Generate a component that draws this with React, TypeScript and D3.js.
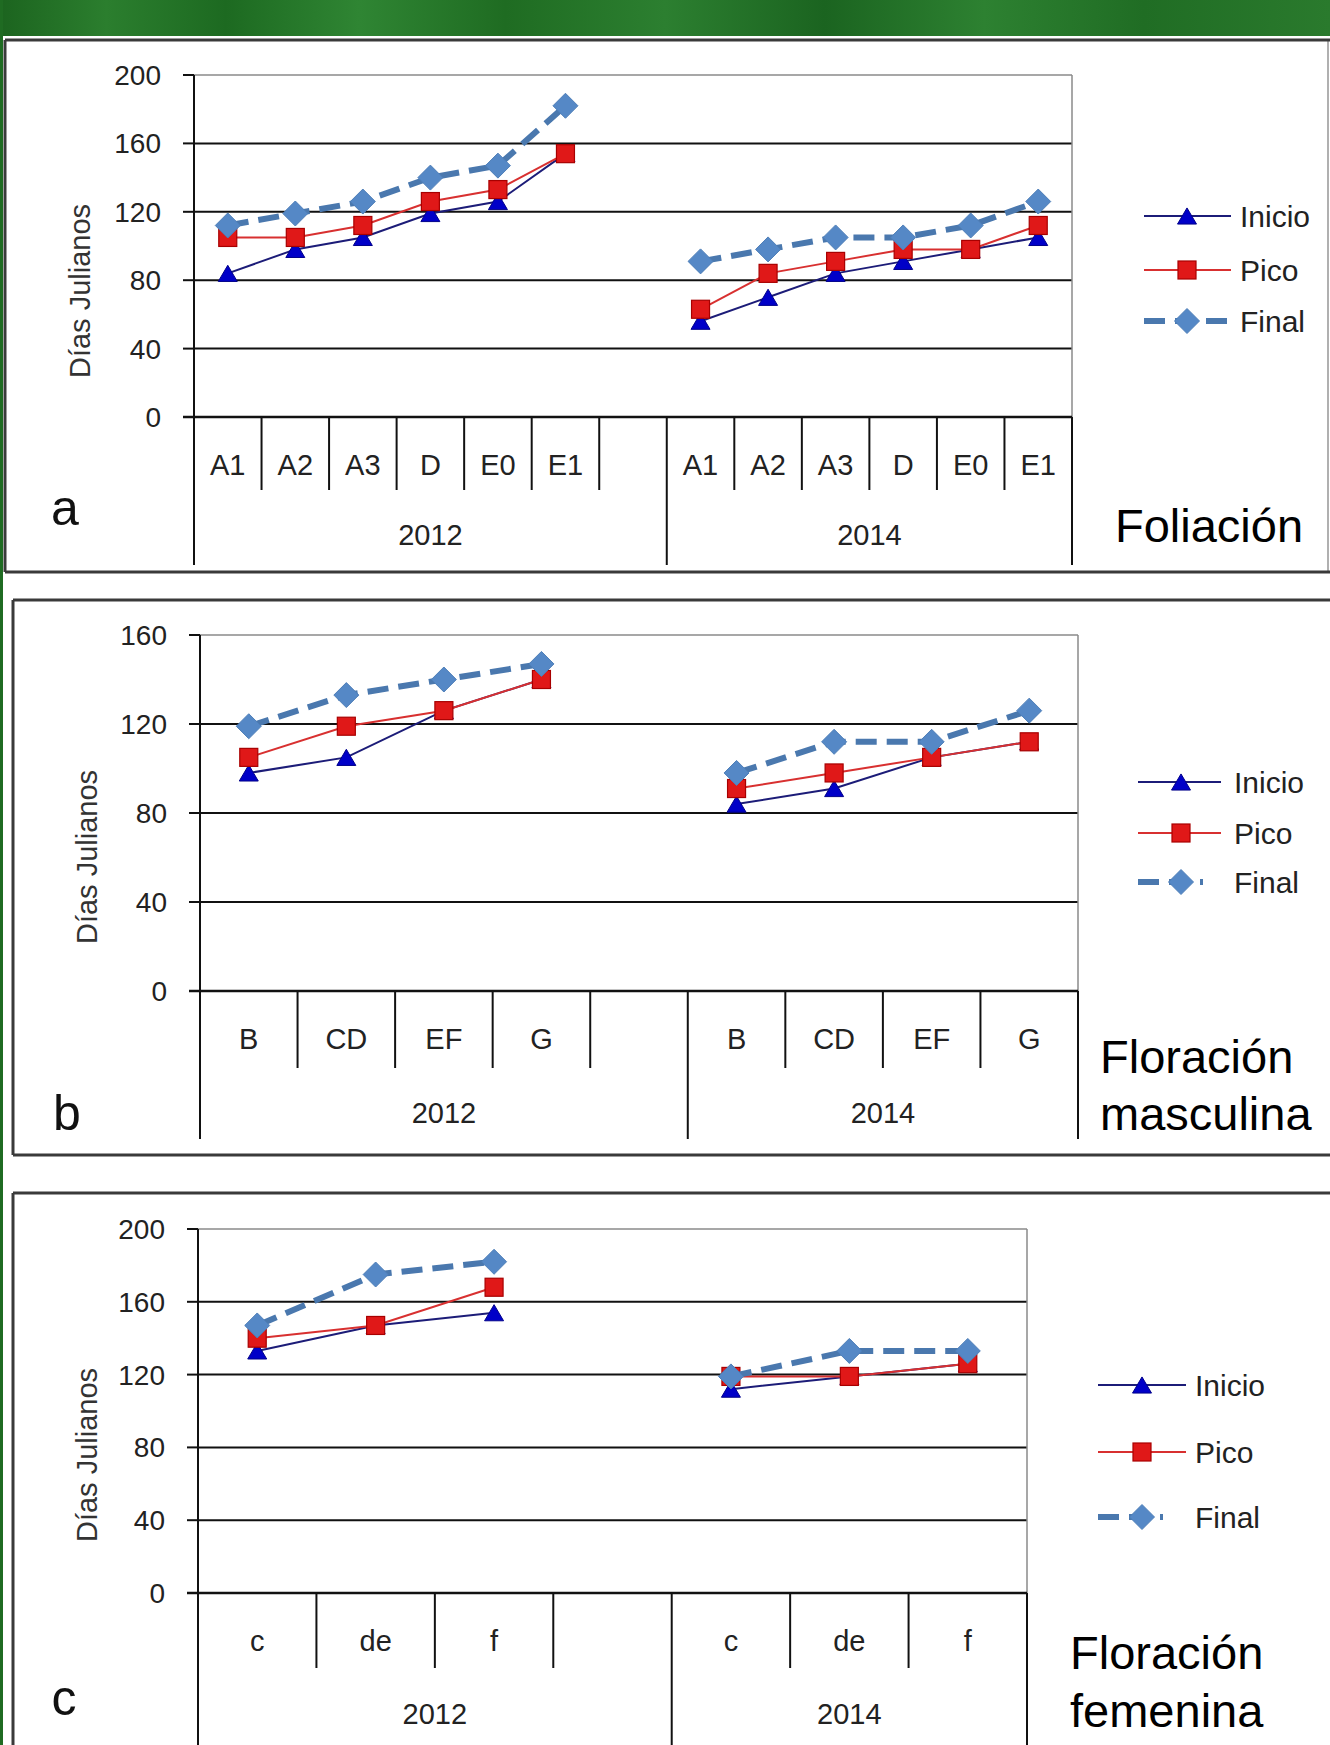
import * as d3 from 'd3';

const W = 1330;
const H = 1745;

const years = ['2012', '2014'];
const seriesNames = ['Inicio', 'Pico', 'Final'];

// a: Foliación (2012 stages then 2014 stages)
const folStages = ['A1', 'A2', 'A3', 'D', 'E0', 'E1'];
const folInicio = [84, 98, 105, 119, 126, 154, 56, 70, 84, 91, 98, 105];
const folPico = [105, 105, 112, 126, 133, 154, 63, 84, 91, 98, 98, 112];
const folFinal = [112, 119, 126, 140, 147, 182, 91, 98, 105, 105, 112, 126];
const folTicks = [0, 40, 80, 120, 160, 200];

// b: Floración masculina
const mascStages = ['B', 'CD', 'EF', 'G'];
const mascInicio = [98, 105, 126, 140, 84, 91, 105, 112];
const mascPico = [105, 119, 126, 140, 91, 98, 105, 112];
const mascFinal = [119, 133, 140, 147, 98, 112, 112, 126];
const mascTicks = [0, 40, 80, 120, 160];

// c: Floración femenina
const femStages = ['c', 'de', 'f'];
const femInicio = [133, 147, 154, 112, 119, 126];
const femPico = [140, 147, 168, 119, 119, 126];
const femFinal = [147, 175, 182, 119, 133, 133];
const femTicks = [0, 40, 80, 120, 160, 200];

const FONT = "'Liberation Sans', Arial, sans-serif";
const INICIO_LINE = '#1c1c78';
const INICIO_FILL = '#0000c8';
const PICO_LINE = '#d83030';
const PICO_FILL = '#e01818';
const FINAL_LINE = '#4a78ae';
const FINAL_FILL = '#5588c6';

type Layout = {
  frame: { x: number; y: number; b: number };
  plot: { l: number; r: number; t: number; b: number };
  shortSep: number;
  longSep: number;
  catY: number;
  yearY: number;
  letter: { t: string; x: number; y: number };
  yTitle: { x: number; y: number };
  legend: { x1: number; x2: number; x2f: number; xm: number; tx: number; ys: number[] };
  title: { x: number; lines: string[]; ys: number[] };
};

const layoutA: Layout = {
  frame: { x: 5, y: 40, b: 572 },
  plot: { l: 194, r: 1072, t: 75, b: 417 },
  shortSep: 490, longSep: 565, catY: 465, yearY: 535,
  letter: { t: 'a', x: 65, y: 525 },
  yTitle: { x: 80, y: 291 },
  legend: { x1: 1144, x2: 1231, x2f: 1231, xm: 1187, tx: 1240, ys: [216, 270, 321] },
  title: { x: 1115, lines: ['Foliación'], ys: [542] },
};
const layoutB: Layout = {
  frame: { x: 13, y: 600, b: 1155 },
  plot: { l: 200, r: 1078, t: 635, b: 991 },
  shortSep: 1068, longSep: 1139, catY: 1039, yearY: 1113,
  letter: { t: 'b', x: 67, y: 1130 },
  yTitle: { x: 87, y: 857 },
  legend: { x1: 1138, x2: 1221, x2f: 1203, xm: 1181, tx: 1234, ys: [782, 833, 882] },
  title: { x: 1100, lines: ['Floración', 'masculina'], ys: [1073, 1130] },
};
const layoutC: Layout = {
  frame: { x: 13, y: 1193, b: 1800 },
  plot: { l: 198, r: 1027, t: 1229, b: 1593 },
  shortSep: 1668, longSep: 1760, catY: 1641, yearY: 1714,
  letter: { t: 'c', x: 64, y: 1715 },
  yTitle: { x: 87, y: 1455 },
  legend: { x1: 1098, x2: 1186, x2f: 1163, xm: 1142, tx: 1195, ys: [1385, 1452, 1517] },
  title: { x: 1070, lines: ['Floración', 'femenina'], ys: [1669, 1727] },
};

function diamondPath(cx: number, cy: number, r: number) {
  return `M${cx},${cy - r}L${cx + r},${cy}L${cx},${cy + r}L${cx - r},${cy}Z`;
}
function trianglePath(cx: number, cy: number, s: number) {
  const h = s * 0.85;
  return `M${cx},${cy - h / 2}L${cx + s / 2},${cy + h / 2}L${cx - s / 2},${cy + h / 2}Z`;
}

function Marker({ kind, x, y }: { kind: number; x: number; y: number }) {
  if (kind === 0) return <path d={trianglePath(x, y, 19)} fill={INICIO_FILL} stroke="#00008a" strokeWidth={1} />;
  if (kind === 1) return <rect x={x - 9} y={y - 9} width={18} height={18} fill={PICO_FILL} stroke="#a80000" strokeWidth={1.2} />;
  return <path d={diamondPath(x, y, 12.5)} fill={FINAL_FILL} stroke="#4f7fb8" strokeWidth={1} />;
}

function Panel({ stages, series, ticks, L }: { stages: string[]; series: number[][]; ticks: number[]; L: Layout }) {
  const n = stages.length;
  const keys: string[] = [];
  years.forEach((yr, yi) => {
    stages.forEach(s => keys.push(`${yr}|${s}`));
    if (yi === 0) keys.push(`${yr}|gap`);
  });
  const x = d3.scaleBand<string>().domain(keys).range([L.plot.l, L.plot.r]).padding(0);
  const y = d3.scaleLinear().domain([0, d3.max(ticks) as number]).range([L.plot.b, L.plot.t]);
  const bw = x.bandwidth();
  const cx = (k: string) => (x(k) as number) + bw / 2;
  const split2014 = x(`${years[1]}|${stages[0]}`) as number;
  const line = d3.line<[number, number]>().x(d => d[0]).y(d => d[1]);

  const pts = (vals: number[]) =>
    years.map((yr, yi) => stages.map((s, i) => [cx(`${yr}|${s}`), y(vals[yi * n + i])] as [number, number]));

  const styles = [
    { stroke: INICIO_LINE, width: 2, dash: undefined as string | undefined },
    { stroke: PICO_LINE, width: 2, dash: undefined as string | undefined },
    { stroke: FINAL_LINE, width: 6, dash: '21 10' },
  ];

  const boundaries = keys.map(k => x(k) as number).concat([L.plot.r]);
  const longXs = [L.plot.l, split2014, L.plot.r];
  const maxT = d3.max(ticks) as number;

  return (
    <g>
      {/* frame */}
      <line x1={L.frame.x} x2={W} y1={L.frame.y} y2={L.frame.y} stroke="#3a3a3a" strokeWidth={3} />
      <line x1={L.frame.x} x2={L.frame.x} y1={L.frame.y} y2={L.frame.b} stroke="#3a3a3a" strokeWidth={3} />
      <line x1={L.frame.x} x2={W} y1={L.frame.b} y2={L.frame.b} stroke="#3a3a3a" strokeWidth={3} />

      {/* grid */}
      {ticks.filter(t => t !== 0).map(t => (
        <line key={t} x1={L.plot.l} x2={L.plot.r} y1={y(t)} y2={y(t)}
          stroke={t === maxT ? '#8a8a8a' : '#111'} strokeWidth={t === maxT ? 1.5 : 2} />
      ))}
      <line x1={L.plot.r} x2={L.plot.r} y1={L.plot.t} y2={L.plot.b} stroke="#8a8a8a" strokeWidth={1.5} />

      {/* y axis */}
      <line x1={L.plot.l} x2={L.plot.l} y1={L.plot.t} y2={L.longSep} stroke="#111" strokeWidth={2} />
      {ticks.map(t => (
        <g key={t}>
          <line x1={L.plot.l - 11} x2={L.plot.l} y1={y(t)} y2={y(t)} stroke="#111" strokeWidth={2} />
          <text x={L.plot.l - 33} y={y(t)} dy="0.36em" textAnchor="end" fontSize={28} fill="#222" fontFamily={FONT}>{t}</text>
        </g>
      ))}
      <line x1={L.plot.l - 11} x2={L.plot.r} y1={L.plot.b} y2={L.plot.b} stroke="#111" strokeWidth={2.5} />

      {/* category separators */}
      {boundaries.map((bx, i) => {
        const isLong = longXs.some(v => Math.abs(v - bx) < 0.5);
        if (i === 0) return null;
        return <line key={i} x1={bx} x2={bx} y1={L.plot.b} y2={isLong ? L.longSep : L.shortSep} stroke="#111" strokeWidth={2} />;
      })}
      {keys.filter(k => !k.endsWith('gap')).map(k => (
        <text key={k} x={cx(k)} y={L.catY} dy="0.36em" textAnchor="middle" fontSize={29} fill="#222" fontFamily={FONT}>{k.split('|')[1]}</text>
      ))}
      <text x={(L.plot.l + split2014) / 2} y={L.yearY} dy="0.36em" textAnchor="middle" fontSize={29} fill="#222" fontFamily={FONT}>{years[0]}</text>
      <text x={(split2014 + L.plot.r) / 2} y={L.yearY} dy="0.36em" textAnchor="middle" fontSize={29} fill="#222" fontFamily={FONT}>{years[1]}</text>

      {/* y title */}
      <text transform={`translate(${L.yTitle.x},${L.yTitle.y}) rotate(-90)`} dy="0.36em" textAnchor="middle" fontSize={29} fill="#333" fontFamily={FONT}>Días Julianos</text>

      {/* panel letter */}
      <text x={L.letter.x} y={L.letter.y} textAnchor="middle" fontSize={50} fill="#111" fontFamily={FONT}>{L.letter.t}</text>

      {/* series */}
      {series.map((vals, si) => {
        const groups = pts(vals);
        const st = styles[si];
        return (
          <g key={si}>
            {groups.map((g, gi) => (
              <path key={gi} d={line(g) as string} fill="none" stroke={st.stroke} strokeWidth={st.width} strokeDasharray={st.dash} />
            ))}
            {groups.flat().map((p, pi) => <Marker key={pi} kind={si} x={p[0]} y={p[1]} />)}
          </g>
        );
      })}

      {/* legend */}
      {seriesNames.map((name, si) => {
        const ly = L.legend.ys[si];
        const st = styles[si];
        return (
          <g key={name}>
            <line x1={L.legend.x1} x2={si === 2 ? L.legend.x2f : L.legend.x2} y1={ly} y2={ly}
              stroke={st.stroke} strokeWidth={si === 2 ? 6 : 2} strokeDasharray={si === 2 ? '21 10' : undefined} />
            <Marker kind={si} x={L.legend.xm} y={ly} />
            <text x={L.legend.tx} y={ly} dy="0.36em" fontSize={30} fill="#222" fontFamily={FONT}>{name}</text>
          </g>
        );
      })}

      {/* panel title */}
      {L.title.lines.map((t, i) => (
        <text key={t} x={L.title.x} y={L.title.ys[i]} fontSize={47} fill="#000" fontFamily={FONT}>{t}</text>
      ))}
    </g>
  );
}

export default function App() {
  return (
    <svg width={W} height={H} viewBox={`0 0 ${W} ${H}`} style={{ position: 'absolute', left: 0, top: 0, display: 'block', background: '#fff' }}>
      <defs>
        <linearGradient id="grass" x1="0" x2="1" y1="0" y2="0">
          <stop offset="0" stopColor="#1c641f" />
          <stop offset="0.08" stopColor="#2b7e2e" />
          <stop offset="0.17" stopColor="#1d6a21" />
          <stop offset="0.27" stopColor="#2f8533" />
          <stop offset="0.38" stopColor="#1f6c22" />
          <stop offset="0.5" stopColor="#2c7f30" />
          <stop offset="0.62" stopColor="#1b6420" />
          <stop offset="0.74" stopColor="#2d8131" />
          <stop offset="0.86" stopColor="#206d24" />
          <stop offset="1" stopColor="#2a7a2d" />
        </linearGradient>
      </defs>
      <rect x={0} y={0} width={W} height={H} fill="#fff" />
      <rect x={0} y={0} width={W} height={36} fill="url(#grass)" />
      <rect x={0} y={0} width={3} height={H} fill="#1f6b22" />
      <line x1={1328} x2={1328} y1={40} y2={572} stroke="#b0b0b0" strokeWidth={2} />

      <Panel stages={folStages} series={[folInicio, folPico, folFinal]} ticks={folTicks} L={layoutA} />
      <Panel stages={mascStages} series={[mascInicio, mascPico, mascFinal]} ticks={mascTicks} L={layoutB} />
      <Panel stages={femStages} series={[femInicio, femPico, femFinal]} ticks={femTicks} L={layoutC} />
    </svg>
  );
}
